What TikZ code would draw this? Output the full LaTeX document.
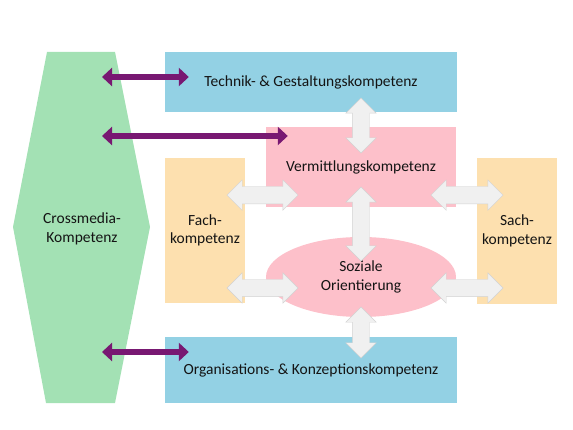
\documentclass[tikz,border=0pt]{standalone}
\usepackage{fontspec}
\setmainfont{Carlito}
\usepackage{tikz}
\usetikzlibrary{shapes.geometric, shapes.arrows, positioning, arrows.meta, calc}

\definecolor{techblue}{RGB}{147,209,228}
\definecolor{vermpink}{RGB}{253,192,202}
\definecolor{fachpeach}{RGB}{253,224,175}
\definecolor{crossgreen}{RGB}{163,225,180}
\definecolor{crosspurple}{RGB}{120,24,114}
\definecolor{txtgray}{RGB}{20,20,20}

\begin{document}
\begin{tikzpicture}[
        x=1pt, y=-1pt,
        % Define styles
        box/.style={rectangle, fill=#1, inner sep=0pt, align=center, text=txtgray, font=\fontsize{15.5}{18.5}\selectfont},
        soft/.style={ellipse, fill=vermpink, inner sep=0pt, align=center, text=txtgray, font=\fontsize{15.5}{18.5}\selectfont},
        garrow/.style={double arrow, draw=gray!35, fill=gray!12, inner xsep=0pt, inner ysep=8.5pt, double arrow head extend=6.5pt, double arrow tip angle=90, sloped, minimum height=#1},
        parrow/.style={<->, >={Triangle[width=18pt, length=10pt]}, line width=6.5pt, draw=crosspurple}
    ]
    \useasboundingbox (0,0) rectangle (573,430);

    % 1. Crossmedia hexagon
    \fill[crossgreen] (47,52) -- (115,52) -- (150,227) -- (115,403) -- (46,403) -- (13,227) -- cycle;
    \node[box=none, fill=none] (cross) at (82,229) {Crossmedia-\\Kompetenz};

    % 2. Competence boxes
    \node[box=techblue, minimum width=292, minimum height=60] (tech) at (311,82) {Technik- \& Gestaltungskompetenz};
    \node[box=vermpink, minimum width=190, minimum height=80] (verm) at (361,167) {Vermittlungskompetenz};
    \node[box=fachpeach, minimum width=80, minimum height=145] (fach) at (205,230.5) {Fach-\\kompetenz};
    \node[box=fachpeach, minimum width=80, minimum height=146] (sach) at (517,231) {Sach-\\kompetenz};
    \node[soft, minimum width=190, minimum height=80] (soz) at (361,277) {Soziale\\Orientierung};
    \node[box=techblue, minimum width=292, minimum height=66] (org) at (311,370) {Organisations- \& Konzeptionskompetenz};

    % 3. Gray double arrows between the boxes
    \path ([yshift=14pt]tech.south -| verm.north) -- node[garrow=55pt] (g1) {} ([yshift=-26pt]verm.north);
    \path ([shift={(-18pt,12pt)}]fach.east |- verm.south) -- node[garrow=71pt] (g2) {} ([shift={(32pt,12pt)}]verm.south west);
    \path ([shift={(-25pt,12pt)}]verm.south east) -- node[garrow=72pt] (g3) {} ([shift={(26pt,12pt)}]sach.west |- verm.south);
    \path ([yshift=20pt]verm.south) -- node[garrow=74pt] (g4) {} ([yshift=-24pt]soz.north);
    \path ([shift={(-18pt,-11pt)}]fach.east |- soz.west) -- node[garrow=71pt] (g5) {} ([shift={(32pt,-11pt)}]soz.west);
    \path ([shift={(-25pt,-11pt)}]soz.east) -- node[garrow=72pt] (g6) {} ([shift={(26pt,-11pt)}]sach.west |- soz.east);
    \path ([yshift=10pt]soz.south) -- node[garrow=51pt] (g7) {} ([yshift=-21pt]org.north -| soz.south);

    % 4. Purple arrows from the hexagon
    \coordinate (c1) at (102,77);
    \coordinate (c2) at (102,136);
    \coordinate (c3) at (102,352);
    \draw[parrow] (c1) -- ([xshift=24pt]c1 -| tech.west);
    \draw[parrow] (c2) -- ([xshift=22pt]c2 -| verm.west);
    \draw[parrow] (c3) -- ([xshift=24pt]c3 -| org.west);

\end{tikzpicture}
\end{document}
